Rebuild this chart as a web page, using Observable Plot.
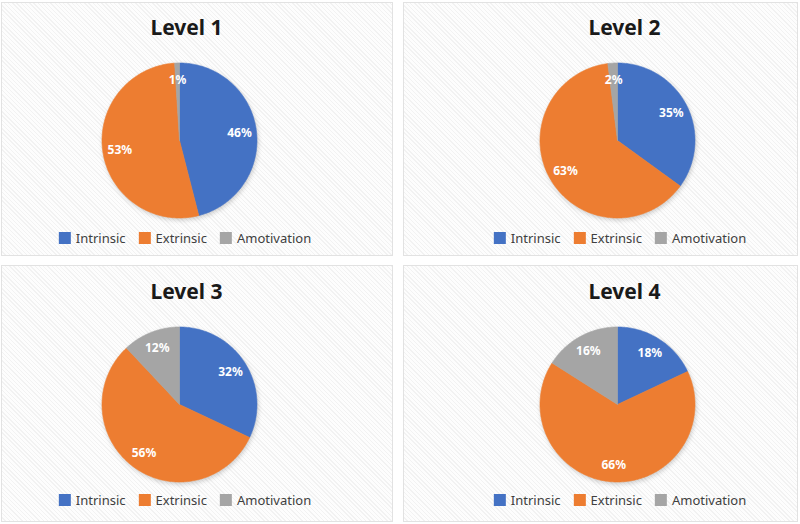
<!DOCTYPE html>
<html>
<head>
<meta charset="utf-8">
<script src="https://cdn.jsdelivr.net/npm/d3@7"></script>
<script src="https://cdn.jsdelivr.net/npm/@observablehq/plot@0.6"></script>
<style>
  html, body { margin: 0; padding: 0; background: #ffffff; }
  #wrap { position: relative; width: 800px; height: 524px; overflow: hidden; font-family: "Noto Sans", "Open Sans", sans-serif; }
  .panel { position: absolute; box-sizing: border-box; border: 1px solid #e2e2e2;
    background: repeating-linear-gradient(45deg, #fdfdfd 0px, #fdfdfd 2px, #f2f2f2 2px, #f2f2f2 3px); }
  .legend { position: absolute; transform: translate(-50%, -50%); display: flex; align-items: center;
    font-size: 13px; color: #404040; white-space: nowrap; }
  .legend .item { display: flex; align-items: center; margin-right: 13px; }
  .legend .item:last-child { margin-right: 0; }
  .legend .sw { width: 12px; height: 12px; margin-right: 5px; display: inline-block; }
  #chart { position: absolute; left: 0; top: 0; }
</style>
</head>
<body>
<div id="wrap"></div>
<script>
// ---- data ----
const levels = ["Level 1", "Level 2", "Level 3", "Level 4"];
const categories = ["Intrinsic", "Extrinsic", "Amotivation"];
const intrinsic = [46, 35, 32, 18];
const extrinsic = [53, 63, 56, 66];
const amotivation = [1, 2, 12, 16];
const colors = ["#4472C4", "#ED7D31", "#A5A5A5"];

// ---- layout ----
const W = 800, H = 524;
const colX = [179, 617], rowY = [140, 404], R = 77.5;
const titleX = [186, 624], titleY = [27.5, 291.5];
const legendX = [185, 620], legendY = [238, 500];
const panels = [
  {left: 1, top: 2, width: 392, height: 254},
  {left: 403, top: 2, width: 395, height: 254},
  {left: 1, top: 265, width: 392, height: 257},
  {left: 403, top: 265, width: 395, height: 257}
];

const wrap = document.getElementById("wrap");
panels.forEach(p => {
  const d = document.createElement("div");
  d.className = "panel";
  Object.assign(d.style, {left: p.left + "px", top: p.top + "px", width: p.width + "px", height: p.height + "px"});
  wrap.appendChild(d);
});

// ---- build slices from data ----
const pts = [];
const labels = [];
const titles = [];
levels.forEach((lv, i) => {
  const vals = [intrinsic[i], extrinsic[i], amotivation[i]];
  const cx = colX[i % 2], cy = rowY[Math.floor(i / 2)];
  titles.push({text: lv, x: titleX[i % 2], y: titleY[Math.floor(i / 2)]});
  const arcs = d3.pie().sort(null)(vals);
  arcs.forEach((a, j) => {
    const key = lv + "-" + j;
    const cat = categories[j];
    pts.push({key, cat, x: cx, y: cy});
    const n = Math.max(2, Math.ceil((a.endAngle - a.startAngle) / (Math.PI / 180)));
    for (let k = 0; k <= n; k++) {
      const t = a.startAngle + (a.endAngle - a.startAngle) * k / n;
      pts.push({key, cat, x: cx + R * Math.sin(t), y: cy - R * Math.cos(t)});
    }
    pts.push({key, cat, x: cx, y: cy});
    const mid = (a.startAngle + a.endAngle) / 2;
    const kr = 0.78 * R;
    labels.push({text: vals[j] + "%", x: cx + kr * Math.sin(mid), y: cy - kr * Math.cos(mid)});
  });
});

const chart = Plot.plot({
  width: W, height: H, margin: 0,
  x: {domain: [0, W], range: [0, W], axis: null},
  y: {domain: [0, H], range: [0, H], axis: null},
  color: {domain: categories, range: colors},
  style: {background: "transparent", fontFamily: "'Noto Sans', 'Open Sans', sans-serif", overflow: "visible"},
  marks: [
    Plot.line(pts, {x: "x", y: "y", z: "key", fill: "cat", stroke: "cat", strokeWidth: 0.6, curve: "linear",
      imageFilter: "drop-shadow(1px 2px 2px rgba(0,0,0,0.18))"}),
    Plot.text(labels, {x: "x", y: "y", text: "text", fill: "white", fontSize: 12, fontWeight: "bold"}),
    Plot.text(titles, {x: "x", y: "y", text: "text", fill: "#1a1a1a", fontSize: 21, fontWeight: "bold", lineAnchor: "middle"})
  ]
});
chart.id = "chart";
wrap.appendChild(chart);

// ---- legends ----
[0, 1, 2, 3].forEach(i => {
  const lg = document.createElement("div");
  lg.className = "legend";
  lg.style.left = legendX[i % 2] + "px";
  lg.style.top = legendY[Math.floor(i / 2)] + "px";
  categories.forEach((c, j) => {
    const it = document.createElement("span");
    it.className = "item";
    const sw = document.createElement("span");
    sw.className = "sw";
    sw.style.background = colors[j];
    it.appendChild(sw);
    it.appendChild(document.createTextNode(c));
    lg.appendChild(it);
  });
  wrap.appendChild(lg);
});
</script>
</body>
</html>
